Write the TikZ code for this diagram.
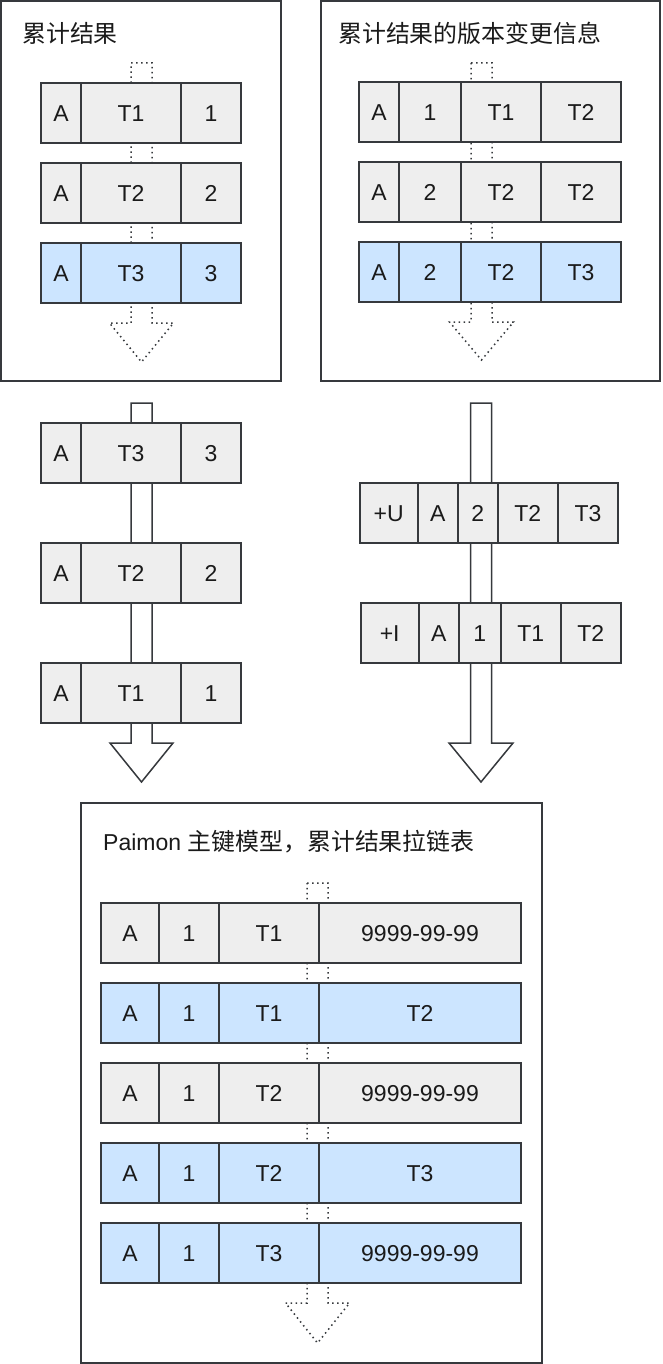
\documentclass[tikz,border=0pt]{standalone}
\usepackage{fontspec}
\setmainfont{Liberation Sans}
\newfontfamily\cjk{Noto Sans CJK SC}[Scale=1.04]
\definecolor{edge}{HTML}{36393D}
\definecolor{gfill}{HTML}{EEEEEE}
\definecolor{bfill}{HTML}{CCE5FF}
\definecolor{ink}{HTML}{1A1A1A}
\newcommand\mkrow[5]{%
  \foreach \w/\t [count=\i, remember=\i as \j (initially 0)] in {#5} {%
    \ifnum\i=1
      \node[#2, minimum width=\w pt] (#1-\i) at (#3,#4) {\t};
    \else
      \node[#2, minimum width=\w pt] (#1-\i) at (#1-\j.north east) {\t};
    \fi
  }%
}
\tikzset{
  cellbase/.style={draw=edge, line width=2pt, minimum height=60pt, anchor=north west,
    inner sep=0pt, outer sep=0pt, text=ink, font=\fontsize{23}{26}\selectfont,
    text height=16.5pt, text depth=0pt},
  gcell/.style={cellbase, fill=gfill},
  bcell/.style={cellbase, fill=bfill},
  panel/.style={draw=edge, line width=2pt, fill=white, anchor=north west, inner sep=0pt, outer sep=0pt},
  ptitle/.style={anchor=west, inner sep=0pt, text=ink, font=\fontsize{23}{26}\selectfont},
  solidarrow/.style={draw=edge, line width=1.5pt, fill=white, line join=miter},
  dotarrow/.style={draw=edge, line width=1.5pt, fill=white, dash pattern=on 1.5pt off 3.5pt},
}
\begin{document}
\begin{tikzpicture}[x=1pt, y=-1pt]
\useasboundingbox (0,0) rectangle (662,1364);
% panels
\node[panel, minimum width=280pt, minimum height=380pt] (P1) at (1,1) {};
\node[panel, minimum width=339pt, minimum height=380pt] (P2) at (321,1) {};
\node[panel, minimum width=461pt, minimum height=559.5pt] (P3) at (81,803) {};
\node[ptitle] (T1) at (22,33) {\cjk 累计结果};
\node[ptitle] (T2) at (338,33) {\cjk 累计结果的版本变更信息};
\node[ptitle] (T3) at (103,842) {Paimon {\cjk 主键模型，累计结果拉链表}};
% arrows (behind rows)
\newcommand\flatarrow[7]{% style, cx, hw, y0, yb, hh, yt
  \draw[#1] (#2-#3,#4) -- (#2+#3,#4) -- (#2+#3,#5) -- (#2+#6,#5) -- (#2,#7)
    -- (#2-#6,#5) -- (#2-#3,#5) -- cycle;}
\flatarrow{dotarrow}{141.5}{10.5}{63}{323}{32}{362}
\flatarrow{dotarrow}{481.5}{10.5}{63}{322}{32}{360}
\flatarrow{solidarrow}{141.5}{10.5}{403}{743}{31.5}{782}
\flatarrow{solidarrow}{481}{10.5}{403}{743}{32}{782}
\flatarrow{dotarrow}{317.5}{10.5}{883}{1303}{32}{1343}
% top-left rows
\mkrow{tla}{gcell}{41}{83}{40/A,100/T1,60/1}
\mkrow{tlb}{gcell}{41}{163}{40/A,100/T2,60/2}
\mkrow{tlc}{bcell}{41}{243}{40/A,100/T3,60/3}
% top-right rows
\mkrow{tra}{gcell}{359}{82}{40/A,62/1,80/T1,80/T2}
\mkrow{trb}{gcell}{359}{162}{40/A,62/2,80/T2,80/T2}
\mkrow{trc}{bcell}{359}{242}{40/A,62/2,80/T2,80/T3}
% middle-left rows
\mkrow{mla}{gcell}{41}{423}{40/A,100/T3,60/3}
\mkrow{mlb}{gcell}{41}{543}{40/A,100/T2,60/2}
\mkrow{mlc}{gcell}{41}{663}{40/A,100/T1,60/1}
% middle-right rows
\mkrow{mra}{gcell}{359.7}{483}{58/+U,40/A,40/2,60/T2,60.6/T3}
\mkrow{mrb}{gcell}{360.7}{603}{58/+I,40/A,42/1,60/T1,60.3/T2}
% bottom rows
\mkrow{ba}{gcell}{101}{903}{58/A,60/1,100/T1,202/9999-99-99}
\mkrow{bb}{bcell}{101}{983}{58/A,60/1,100/T1,202/T2}
\mkrow{bc}{gcell}{101}{1063}{58/A,60/1,100/T2,202/9999-99-99}
\mkrow{bd}{bcell}{101}{1143}{58/A,60/1,100/T2,202/T3}
\mkrow{be}{bcell}{101}{1223}{58/A,60/1,100/T3,202/9999-99-99}
\end{tikzpicture}
\end{document}
